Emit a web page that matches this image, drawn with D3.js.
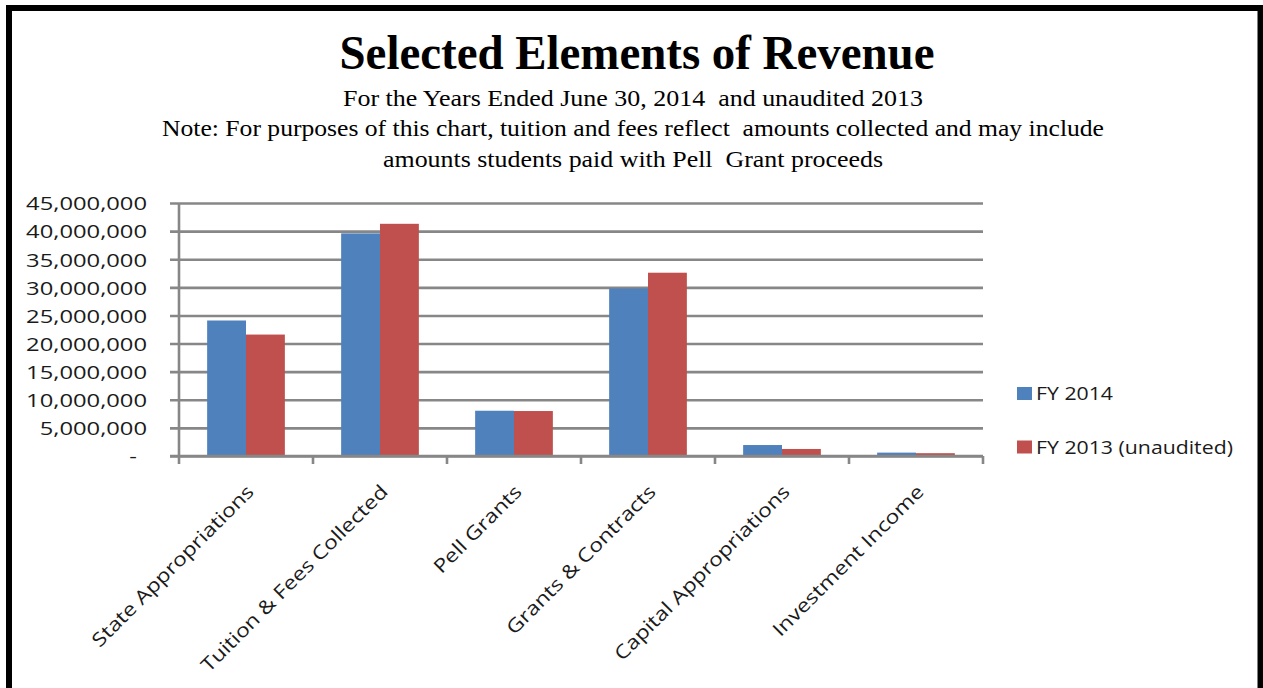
<!DOCTYPE html>
<html>
<head>
<meta charset="utf-8">
<script src="https://cdn.jsdelivr.net/npm/d3@7"></script>
<style>
  html, body { margin: 0; padding: 0; background: #fff; }
  svg { display: block; }
</style>
</head>
<body>
<svg id="chart" width="1263" height="688"></svg>
<script>
// Revenue elements by fiscal year
const categories = [
  "State Appropriations",
  "Tuition & Fees Collected",
  "Pell Grants",
  "Grants & Contracts",
  "Capital Appropriations",
  "Investment Income"
];
const seriesNames = ["FY 2014", "FY 2013 (unaudited)"];
const fy2014 = [24100000, 39600000, 8050000, 29800000, 1950000, 600000];
const fy2013 = [21600000, 41300000, 8000000, 32600000, 1250000, 500000];
const yTicks = [0, 5000000, 10000000, 15000000, 20000000, 25000000, 30000000, 35000000, 40000000, 45000000];
const yTickLabels = ["-", "5,000,000", "10,000,000", "15,000,000", "20,000,000", "25,000,000", "30,000,000", "35,000,000", "40,000,000", "45,000,000"];
const colors = ["#4F81BD", "#C0504D"];

const titleText = "Selected Elements of Revenue";
const subtitleLines = [
  "For the Years Ended June 30, 2014  and unaudited 2013",
  "Note: For purposes of this chart, tuition and fees reflect  amounts collected and may include",
  "amounts students paid with Pell  Grant proceeds"
];

const svg = d3.select("#chart");
const W = 1263, H = 688;
const plot = { left: 179, right: 983, top: 203, bottom: 456 };
const gridColor = "#878787";
const sans = "'Open Sans', sans-serif";
const serif = "'Liberation Serif', 'Times New Roman', serif";

svg.append("rect").attr("width", W).attr("height", H).attr("fill", "#fff");

// Frame
svg.append("rect")
  .attr("x", 9).attr("y", 8)
  .attr("width", 1251.5).attr("height", 720)
  .attr("fill", "none").attr("stroke", "#000").attr("stroke-width", 6);

// Titles (condensed serif)
svg.append("text")
  .attr("x", 637).attr("y", 69)
  .attr("text-anchor", "middle")
  .attr("font-family", serif).attr("font-weight", "bold").attr("font-size", 49)
  .attr("textLength", 595).attr("lengthAdjust", "spacingAndGlyphs")
  .text(titleText);

const subLayout = [
  { y: 106, len: 580 },
  { y: 136, len: 942 },
  { y: 167, len: 500 }
];
subtitleLines.forEach((line, i) => {
  svg.append("text")
    .attr("x", 633).attr("y", subLayout[i].y)
    .attr("text-anchor", "middle")
    .attr("font-family", serif).attr("font-size", 24)
    .attr("textLength", subLayout[i].len).attr("lengthAdjust", "spacingAndGlyphs")
    .style("white-space", "pre")
    .text(line);
});

// Scales
const y = d3.scaleLinear().domain([0, 45000000]).range([plot.bottom, plot.top]);
const x0 = d3.scaleBand().domain(categories).range([plot.left, plot.right])
  .paddingInner(0.42).paddingOuter(0.21);
const x1 = d3.scaleBand().domain(seriesNames).range([0, x0.bandwidth()]);

// Gridlines (extend a little left of the axis like outside ticks)
const gridAxis = d3.axisLeft(y).tickValues(yTicks)
  .tickSize(-(plot.right - (plot.left - 9))).tickFormat("");
const gridG = svg.append("g")
  .attr("transform", `translate(${plot.left - 9},0)`)
  .call(gridAxis);
gridG.select(".domain").remove();
gridG.selectAll("line").attr("stroke", gridColor).attr("stroke-width", 2.6);

// Bars
const data = categories.map((c, i) => ({ cat: c, vals: [fy2014[i], fy2013[i]] }));
const groups = svg.append("g").selectAll("g").data(data).join("g")
  .attr("transform", d => `translate(${x0(d.cat)},0)`);
groups.selectAll("rect")
  .data(d => d.vals.map((v, j) => ({ v, s: seriesNames[j], j })))
  .join("rect")
  .attr("x", d => x1(d.s))
  .attr("width", x1.bandwidth())
  .attr("y", d => y(d.v))
  .attr("height", d => plot.bottom - y(d.v))
  .attr("fill", d => colors[d.j]);

// Y axis line
svg.append("line")
  .attr("x1", plot.left).attr("x2", plot.left)
  .attr("y1", plot.top).attr("y2", plot.bottom)
  .attr("stroke", gridColor).attr("stroke-width", 2.6);

// X axis: baseline with category boundary ticks
const xAxisG = svg.append("g").attr("transform", `translate(0,${plot.bottom})`);
xAxisG.append("line")
  .attr("x1", plot.left - 9).attr("x2", plot.right)
  .attr("stroke", gridColor).attr("stroke-width", 2.6);
const boundaries = categories.map(c => x0(c) - x0.step() * x0.paddingOuter()).concat([plot.right]);
xAxisG.selectAll("line.tick").data(boundaries).join("line")
  .attr("class", "tick")
  .attr("x1", d => d).attr("x2", d => d)
  .attr("y1", 0).attr("y2", 8)
  .attr("stroke", gridColor).attr("stroke-width", 2.6);

// Y tick labels
const sx = 1.25;
const labelAxis = d3.axisLeft(y).tickValues(yTicks).tickSize(0).tickPadding(0)
  .tickFormat((d, i) => yTickLabels[i]);
const labelG = svg.append("g")
  .attr("transform", `translate(${plot.left},0)`)
  .call(labelAxis);
labelG.select(".domain").remove();
labelG.selectAll("text")
  .attr("font-family", sans).attr("font-size", 19).attr("fill", "#1a1a1a")
  .attr("x", d => -(d === 0 ? 42 : 32) / sx)
  .attr("dy", "0.36em")
  .attr("transform", `scale(${sx},1)`);

// Category labels, rotated
svg.append("g").selectAll("text").data(categories).join("text")
  .attr("transform", d => `translate(${x0(d) + x0.bandwidth() / 2 + 9},493) rotate(-45) scale(1.2,1)`)
  .attr("text-anchor", "end")
  .attr("font-family", sans).attr("font-size", 19).attr("fill", "#1a1a1a")
  .text(d => d);

// Legend
const legend = svg.append("g").attr("transform", "translate(1017,0)");
const legendY = [393.5, 447];
seriesNames.forEach((s, i) => {
  legend.append("rect")
    .attr("x", 0).attr("y", legendY[i] - 6.5)
    .attr("width", 15).attr("height", 13)
    .attr("fill", colors[i]);
  legend.append("text")
    .attr("transform", `translate(19,${legendY[i]}) scale(1.12,1)`)
    .attr("dy", "0.36em")
    .attr("font-family", sans).attr("font-size", 19).attr("fill", "#1a1a1a")
    .text(s);
});
</script>
</body>
</html>
